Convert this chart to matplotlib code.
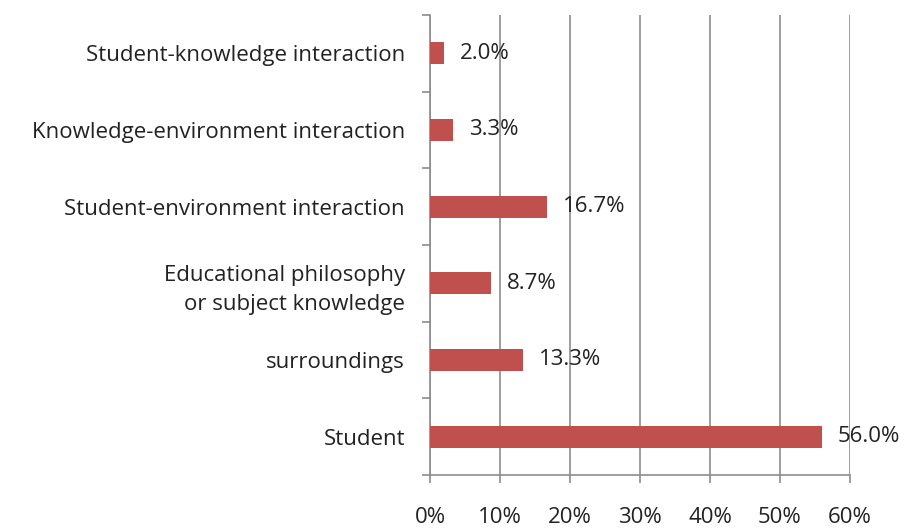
import matplotlib

matplotlib.use("Agg")
import matplotlib.pyplot as plt
from matplotlib.ticker import FuncFormatter, MultipleLocator
from matplotlib.transforms import offset_copy

# bottom-to-top order, as in the chart
categories = [
    "Student",
    "surroundings",
    "Educational philosophy\nor subject knowledge",
    "Student-environment interaction",
    "Knowledge-environment interaction",
    "Student-knowledge interaction",
]
shares = [56.0, 13.3, 8.7, 16.7, 3.3, 2.0]

BAR_RED = "#C0504D"
GRID_GREY = "#8C8C8C"
TEXT = "#222222"
FS = 16

plt.rcParams["font.family"] = ["Open Sans", "DejaVu Sans"]

fig = plt.figure(figsize=(9.08, 5.28), dpi=100)
ax = fig.add_axes([0.4736, 0.1004, 0.9361 - 0.4736, 0.9716 - 0.1004])

pos = list(range(len(categories)))
bars = ax.barh(pos, shares, height=0.29, color=BAR_RED, zorder=3)

for rect, v in zip(bars, shares):
    tr = offset_copy(ax.transData, fig=fig, x=16, y=0, units="dots")
    ax.text(rect.get_width(), rect.get_y() + rect.get_height() / 2, f"{v:.1f}%",
            transform=tr, ha="left", va="center", fontsize=FS, color=TEXT, zorder=4)

ax.set_xlim(0, 60)
ax.set_ylim(-0.5, len(categories) - 0.5)
ax.xaxis.set_major_locator(MultipleLocator(10))
ax.xaxis.set_major_formatter(FuncFormatter(lambda x, _: f"{x:.0f}%"))
ax.grid(axis="x", color=GRID_GREY, linewidth=1.2, zorder=0)

# category labels centred, ticks on the boundaries
ax.set_yticks(pos)
ax.set_yticklabels(categories, fontsize=FS, color=TEXT, linespacing=1.5)
ax.set_yticks([p - 0.5 for p in pos] + [len(pos) - 0.5], minor=True)
ax.tick_params(axis="y", which="major", length=0, pad=18)
ax.tick_params(axis="y", which="minor", length=5.8, width=1.2, color=GRID_GREY)
ax.tick_params(axis="x", length=5.8, width=1.2, color=GRID_GREY, pad=17,
               labelsize=FS, labelcolor=TEXT)

for side in ("top", "right"):
    ax.spines[side].set_visible(False)
for side in ("left", "bottom"):
    ax.spines[side].set_color(GRID_GREY)
    ax.spines[side].set_linewidth(1.2)

fig.savefig("out.png", dpi=100)
